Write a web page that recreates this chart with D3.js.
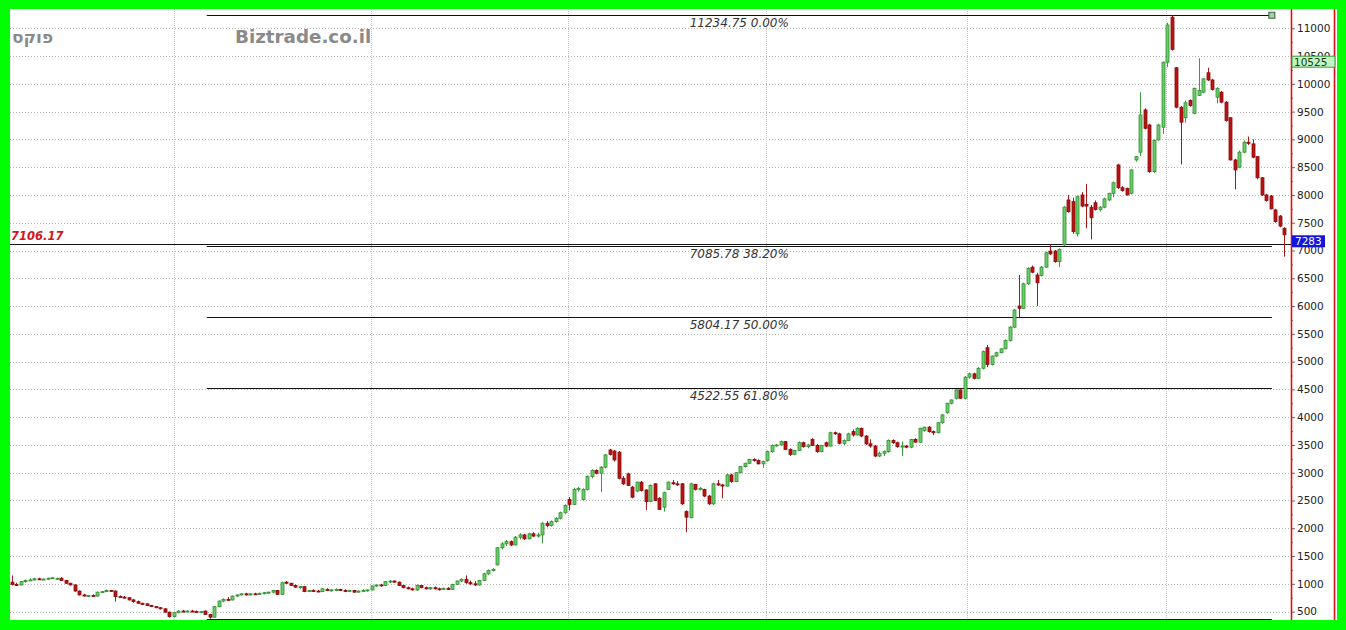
<!DOCTYPE html>
<html><head><meta charset="utf-8">
<script src="https://cdn.jsdelivr.net/npm/d3@7/dist/d3.min.js"></script>
<style>html,body{margin:0;padding:0;background:#00ff00;overflow:hidden}</style>
</head><body>
<svg id="c" width="1346" height="630"></svg>
<script>
// ---- DATA ----
// weekly candles [open, high, low, close]
const ohlc = [
[1030,1150,970,990],[990,1020,960,980],[980,1050,970,1040],[1040,1080,1020,1060],[1060,1100,1050,1070],
[1070,1110,1060,1090],[1090,1110,1070,1080],[1080,1100,1070,1085],[1085,1110,1075,1100],[1100,1120,1090,1110],
[1090,1110,1070,1100],[1100,1120,1050,1060],[1060,1070,1000,1010],[1010,1020,970,980],[980,990,860,870],
[870,880,790,800],[800,820,770,780],[780,800,760,790],[790,810,770,780],[780,860,770,850],
[850,870,840,860],[860,900,850,880],[880,890,860,870],[870,880,680,770],[770,790,750,760],
[760,780,740,750],[750,760,700,710],[710,730,660,680],[680,700,640,650],[650,660,620,630],
[640,650,600,610],[610,620,580,590],[590,600,560,570],[570,580,540,550],[550,560,480,490],
[490,500,390,410],[410,490,400,480],[480,520,470,510],[510,530,490,500],[500,520,490,510],
[510,530,495,500],[500,520,480,495],[495,510,480,500],[510,520,440,450],[450,460,373.57,400],
[400,600,390,590],[590,700,580,690],[690,740,670,720],[720,760,700,710],[710,790,700,780],
[780,810,760,800],[800,830,790,820],[820,840,790,800],[800,830,790,820],[820,840,800,810],
[810,840,800,830],[830,850,810,840],[840,860,820,850],[850,890,830,880],[880,890,800,810],
[810,1040,800,1020],[1030,1050,1000,1010],[1010,1020,960,970],[970,990,930,940],[940,960,910,950],
[950,960,850,860],[860,890,850,880],[880,900,860,870],[870,890,850,860],[860,920,850,910],
[900,920,870,880],[880,900,860,890],[890,920,870,900],[900,910,870,880],[880,900,850,870],
[870,890,850,880],[880,890,840,850],[850,880,840,870],[870,900,860,880],[880,900,860,890],
[890,970,880,960],[960,990,940,980],[980,1000,950,970],[970,1050,960,1040],[1040,1070,1010,1050],
[1050,1060,1020,1030],[1030,1040,960,970],[970,980,920,930],[930,950,900,910],[910,930,880,890],
[890,990,870,970],[970,980,920,930],[930,950,900,910],[910,940,890,930],[930,950,900,910],
[910,930,880,900],[900,930,890,920],[920,940,890,900],[900,1000,890,990],[990,1060,980,1050],
[1050,1100,1030,1080],[1080,1150,1000,1020],[1020,1060,980,1000],[1000,1050,960,980],[980,1070,970,1060],
[1060,1200,1050,1180],[1180,1260,1160,1240],[1240,1280,1220,1260],[1340,1660,1330,1650],[1650,1750,1620,1720],
[1720,1790,1680,1760],[1760,1780,1680,1700],[1700,1860,1690,1840],[1840,1910,1800,1880],[1880,1900,1790,1810],
[1810,1920,1800,1900],[1900,1930,1840,1860],[1860,1920,1830,1880],[1880,2110,1730,2090],[2090,2130,2020,2050],
[2050,2140,2030,2120],[2120,2200,2100,2180],[2180,2300,2160,2280],[2280,2430,2260,2410],[2520,2560,2320,2430],
[2430,2730,2420,2700],[2700,2740,2660,2720],[2520,2720,2500,2700],[2700,2950,2680,2930],[2930,3060,2900,3040],
[3040,3060,2970,2990],[2990,3120,2650,3100],[3100,3340,3080,3320],[3410,3430,3310,3330],[3390,3410,3200,3230],
[3370,3390,2880,2900],[2900,2940,2780,2800],[2980,3000,2760,2770],[2740,2760,2540,2560],[2670,2840,2650,2830],
[2830,2850,2660,2680],[2690,2700,2330,2480],[2480,2790,2470,2770],[2800,2810,2490,2500],[2540,2560,2330,2340],
[2380,2660,2300,2640],[2700,2840,2690,2830],[2820,2870,2780,2800],[2800,2850,2760,2790],[2800,2810,2420,2440],
[2300,2320,1930,2200],[2190,2820,2180,2800],[2790,2800,2680,2700],[2700,2740,2680,2720],[2700,2710,2560,2580],
[2580,2600,2420,2440],[2440,2820,2420,2800],[2800,2870,2760,2780],[2780,2800,2540,2760],[2760,2980,2750,2960],
[2960,2980,2820,2840],[2840,3010,2830,3000],[3000,3120,2990,3110],[3110,3180,3090,3170],[3170,3250,3160,3240],
[3240,3260,3200,3220],[3220,3240,3150,3160],[3160,3220,3090,3200],[3220,3400,3200,3380],[3380,3510,3360,3490],
[3490,3520,3470,3500],[3500,3580,3480,3560],[3560,3570,3410,3420],[3420,3440,3300,3330],[3330,3410,3320,3400],
[3400,3560,3390,3540],[3540,3560,3450,3470],[3470,3520,3440,3500],[3600,3620,3480,3490],[3490,3520,3360,3380],
[3380,3500,3370,3490],[3540,3560,3460,3480],[3480,3740,3470,3720],[3720,3740,3680,3700],[3700,3720,3510,3530],
[3530,3600,3500,3580],[3580,3720,3570,3700],[3740,3780,3650,3680],[3680,3820,3670,3800],[3800,3810,3640,3660],
[3660,3680,3500,3520],[3520,3600,3450,3480],[3480,3500,3280,3300],[3300,3380,3280,3350],[3350,3400,3300,3380],
[3380,3600,3360,3580],[3580,3600,3520,3540],[3540,3560,3450,3470],[3470,3560,3300,3480],[3480,3500,3440,3460],
[3460,3610,3440,3600],[3600,3620,3540,3550],[3550,3810,3540,3800],[3760,3830,3740,3820],[3820,3840,3720,3740],
[3740,3760,3680,3720],[3720,3910,3710,3900],[3900,4060,3880,4040],[4080,4260,4060,4250],[4250,4320,4230,4310],
[4340,4500,4320,4490],[4490,4500,4330,4340],[4340,4740,4320,4720],[4720,4800,4690,4780],[4780,4800,4680,4700],
[4700,4900,4690,4880],[4880,5200,4860,5180],[5250,5300,4900,4950],[4950,5110,4930,5100],[5100,5180,5080,5160],
[5160,5240,5150,5230],[5230,5400,5220,5380],[5380,5640,5360,5620],[5620,5950,5600,5930],[6000,6560,5800,5960],
[5960,6420,5950,6400],[6400,6700,6380,6680],[6700,6730,6590,6610],[6560,6600,6000,6420],[6550,6720,6530,6700],
[6700,6980,6690,6960],[6990,7110,6920,6940],[6990,7010,6780,6800],[6800,7040,6700,7020],[7100,7800,7080,7780],
[7910,8000,7680,7700],[7880,7950,7300,7340],[7300,7990,7250,7970],[8000,8050,7780,7800],[7830,8200,7400,7800],
[7780,7820,7200,7590],[7860,7900,7720,7740],[7740,7800,7700,7780],[7780,7950,7760,7930],[7910,8040,7890,8030],
[8030,8240,7960,8220],[8540,8560,8110,8130],[8130,8160,8060,8080],[8120,8130,7990,8000],[8030,8460,8010,8450],
[8630,8700,8600,8690],[8770,9850,8700,9440],[9530,9560,9180,9200],[9260,9280,8400,8420],[8420,9000,8400,8980],
[8990,9280,8980,9260],[9220,10400,9100,10390],[10390,11100,10300,11060],[11200,11234.75,10600,10620],[10290,10300,9560,9580],
[9580,9600,8550,9310],[9390,9700,9300,9660],[9700,9720,9590,9610],[9470,9930,9450,9920],[9790,10460,9780,9880],
[9850,10100,9830,10090],[10200,10290,10050,10070],[10070,10090,9880,9900],[9760,9940,9650,9920],[9850,9870,9650,9670],
[9670,9690,9320,9340],[9390,9400,8620,8630],[8630,8650,8100,8450],[8500,8800,8480,8770],[8770,8980,8750,8950],
[8950,9050,8900,8930],[8920,9000,8660,8680],[8690,8700,8280,8310],[8310,8320,7980,8000],[8000,8020,7880,7900],
[7980,8000,7740,7750],[7730,7750,7500,7520],[7620,7640,7420,7440],[7400,7420,6890,7283]
];
const yTicks = [500,1000,1500,2000,2500,3000,3500,4000,4500,5000,5500,6000,6500,7000,7500,8000,8500,9000,9500,10000,10500,11000];
const yMinorTicks = [750,1250,1750,2250,2750,3250,3750,4250,4750,5250,5750,6250,6750,7250,7750,8250,8750,9250,9750,10250,10750];
const yearGridIdx = [36, 79.9, 123.7, 167.7, 212.5, 256.7];   // candle index of year separators
const fibValues = [11234.75, 7085.78, 5804.17, 4522.55, 373.57];
const fibLabels = ["0.00%", "38.20%", "50.00%", "61.80%", null];   // 100% label falls below the plot
const fibStartIdx = 44, fibEndIdx = 280.3;
const hLineValue = 7106.17;
const tagGreen = 10525;
const tagBlue = 7283;

// ---- CHART ----
const svg = d3.select("#c");
const W = 1346, H = 630;
const plot = {left:10, top:9, right:1291, bottom:620};
const x = d3.scaleLinear().domain([0, ohlc.length-1]).range([12, 1284]);
const y = d3.scaleLinear().domain([500, 11000]).range([611.6, 28.3]);

svg.append("rect").attr("width",W).attr("height",H).attr("fill","#00ff00");
svg.append("rect").attr("x",10).attr("y",9).attr("width",1327).attr("height",611).attr("fill","#ffffff");

svg.append("defs").append("clipPath").attr("id","pc").append("rect")
  .attr("x",plot.left).attr("y",plot.top).attr("width",plot.right-plot.left).attr("height",plot.bottom-plot.top);

const g = svg.append("g").attr("clip-path","url(#pc)");

// grid
g.selectAll(".hg").data(yTicks).join("line")
  .attr("x1",plot.left).attr("x2",plot.right)
  .attr("y1",d=>Math.round(y(d))+0.5).attr("y2",d=>Math.round(y(d))+0.5)
  .attr("stroke","#b8b8b8").attr("stroke-width",1).attr("stroke-dasharray","1,2");
g.selectAll(".vg").data(yearGridIdx).join("line")
  .attr("x1",d=>Math.round(x(d))+0.5).attr("x2",d=>Math.round(x(d))+0.5)
  .attr("y1",plot.top).attr("y2",plot.bottom)
  .attr("stroke","#c8c8c8").attr("stroke-width",1).attr("stroke-dasharray","1,1");

// watermark texts
svg.append("text").attr("x",12).attr("y",43).text("פוקס")
  .attr("font-family","DejaVu Sans").attr("font-weight","bold").attr("font-size",17)
  .attr("fill","#8a8a8a");
svg.append("text").attr("x",235).attr("y",42.5).text("Biztrade.co.il")
  .attr("font-family","DejaVu Sans").attr("font-weight","bold").attr("font-size",18.3)
  .attr("fill","#8a8a8a");

// fib lines
const fx1 = x(fibStartIdx)-3, fx2 = x(fibEndIdx);
g.selectAll(".fib").data(fibValues).join("line")
  .attr("x1",fx1).attr("x2",fx2)
  .attr("y1",d=>Math.round(y(d))+0.5).attr("y2",d=>Math.round(y(d))+0.5)
  .attr("stroke","#111").attr("stroke-width",1);
g.selectAll(".fibt").data(fibValues.filter((d,i)=>fibLabels[i])).join("text")
  .attr("x",(fx1+fx2)/2).attr("y",d=>y(d)+12)
  .attr("text-anchor","middle").attr("font-family","DejaVu Sans").attr("font-style","italic")
  .attr("font-size",12).attr("fill","#333")
  .text((d,i)=>d.toFixed(2)+" "+fibLabels[i]);
svg.append("rect").attr("x",fx2-3).attr("y",y(fibValues[0])-3).attr("width",6).attr("height",6)
  .attr("fill","#9fd49f").attr("stroke","#3d5c3d").attr("stroke-width",1);

// horizontal marker line
g.append("line").attr("x1",plot.left).attr("x2",plot.right)
  .attr("y1",Math.round(y(hLineValue))-0.5).attr("y2",Math.round(y(hLineValue))-0.5)
  .attr("stroke","#111").attr("stroke-width",1);
g.append("text").attr("x",11).attr("y",y(hLineValue)-4.5).text(hLineValue.toFixed(2))
  .attr("font-family","DejaVu Sans").attr("font-weight","bold").attr("font-style","italic")
  .attr("font-size",11.5).attr("fill","#d4151b");

// candles
const up = d=>d[3]>=d[0];
const cg = g.append("g");
cg.selectAll(".wick").data(ohlc).join("line")
  .attr("x1",(d,i)=>Math.round(x(i))+0.5).attr("x2",(d,i)=>Math.round(x(i))+0.5)
  .attr("y1",d=>y(d[1])).attr("y2",d=>y(d[2]))
  .attr("stroke",d=>up(d)?"#3c9c3c":"#a01818").attr("stroke-width",1);
cg.selectAll(".body").data(ohlc).join("rect")
  .attr("x",(d,i)=>Math.round(x(i))-1)
  .attr("width",3)
  .attr("y",d=>y(Math.max(d[0],d[3])))
  .attr("height",d=>Math.max(1,Math.abs(y(d[0])-y(d[3]))))
  .attr("fill",d=>up(d)?"#6ccc6c":"#b81414")
  .attr("stroke",d=>up(d)?"#2f8f2f":"#8a0c0c").attr("stroke-width",0.8);

// right axis
const ax = svg.append("g").attr("transform",`translate(${plot.right},0)`)
  .call(d3.axisRight(y).tickValues(yTicks).tickSize(4).tickPadding(2).tickFormat(d3.format("d")));
ax.select(".domain").remove();
ax.selectAll("line").attr("stroke","#666");
ax.selectAll("text").attr("font-family","DejaVu Sans").attr("font-size",10.5).attr("fill","#222");
const ax2 = svg.append("g").attr("transform",`translate(${plot.right},0)`)
  .call(d3.axisRight(y).tickValues(yMinorTicks).tickSize(2).tickFormat(""));
ax2.select(".domain").remove();
ax2.selectAll("line").attr("stroke","#888");

svg.append("line").attr("x1",1291.5).attr("x2",1291.5).attr("y1",9).attr("y2",620).attr("stroke","#e01010").attr("stroke-width",1.6);
svg.append("line").attr("x1",1334.5).attr("x2",1334.5).attr("y1",9).attr("y2",620).attr("stroke","#e01010").attr("stroke-width",1.6);

// price tags
const tg = svg.append("g");
tg.append("rect").attr("x",1292).attr("y",y(tagGreen)+1.5).attr("width",43).attr("height",11)
  .attr("fill","#c2f5c2").attr("stroke","#3a9a3a").attr("stroke-width",1);
tg.append("text").attr("x",1294).attr("y",y(tagGreen)+11).text(String(tagGreen))
  .attr("font-family","DejaVu Sans").attr("font-size",10.5).attr("fill","#1a3a1a");
tg.append("rect").attr("x",1292).attr("y",y(tagBlue)+0.5).attr("width",33).attr("height",12)
  .attr("fill","#1414dc");
tg.append("text").attr("x",1295).attr("y",y(tagBlue)+10.5).text(String(tagBlue))
  .attr("font-family","DejaVu Sans").attr("font-size",10.5).attr("fill","#ffffff");
</script>
</body></html>
